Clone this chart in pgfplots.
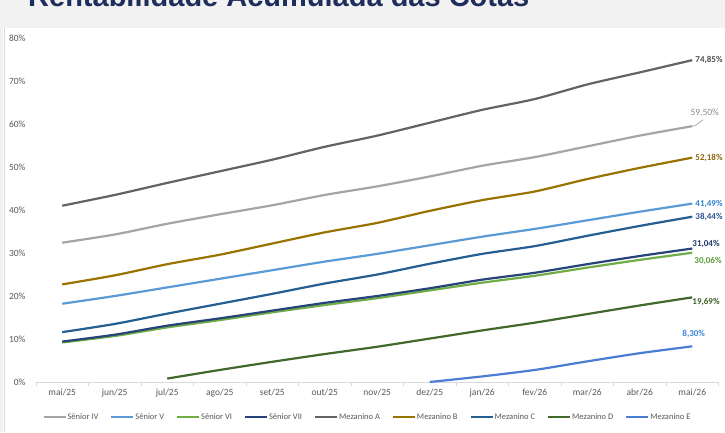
\documentclass[border=0pt]{standalone}
\usepackage{pgfplots}
\pgfplotsset{compat=1.18}
\usepackage{fontspec}
\setmainfont{Carlito}
\newfontfamily\titlefont{Liberation Sans}

\definecolor{cSIV}{HTML}{A5A5A5}
\definecolor{cSV}{HTML}{5B9BD5}
\definecolor{cSVI}{HTML}{70AD47}
\definecolor{cSVII}{HTML}{264478}
\definecolor{cMA}{HTML}{636363}
\definecolor{cMB}{HTML}{997300}
\definecolor{cMC}{HTML}{255E91}
\definecolor{cMD}{HTML}{43682B}
\definecolor{cME}{HTML}{4A7ED4}
\definecolor{ctick}{HTML}{595959}
\definecolor{cgrid}{HTML}{D9D9D9}
\definecolor{cband}{HTML}{F2F2F2}
\definecolor{ctitle}{HTML}{1F2D5C}

\definecolor{lMA}{HTML}{505050}
\definecolor{lSIV}{HTML}{8C8C8C}
\definecolor{lMB}{HTML}{8B6914}
\definecolor{lSV}{HTML}{2F7FD0}
\definecolor{lMC}{HTML}{2F5597}
\definecolor{lSVII}{HTML}{203864}
\definecolor{lSVI}{HTML}{5B9B3A}
\definecolor{lMD}{HTML}{3B5E26}
\definecolor{lME}{HTML}{3A86D6}

\begin{document}
\begin{tikzpicture}
\useasboundingbox (0pt,0pt) rectangle (725pt,432pt);
\clip (0pt,0pt) rectangle (725pt,432pt);
\fill[white] (0pt,0pt) rectangle (725pt,432pt);
\fill[cband] (0pt,404pt) rectangle (725pt,432pt);
\fill[cband] (0pt,0pt) rectangle (3pt,432pt);
\draw[cgrid, line width=1pt] (4pt,0pt) -- (4pt,404pt);
\node[anchor=base west, inner sep=0pt, text=ctitle,
      font=\titlefont\bfseries\fontsize{29}{33}\selectfont] at (28pt,425pt) {Rentabilidade Acumulada das Cotas};

\begin{axis}[
  at={(36pt,50pt)}, anchor=south west,
  width=682.5pt, height=344pt, scale only axis,
  xmin=-0.5, xmax=12.5, ymin=0, ymax=80,
  axis lines*=left,
  x axis line style={draw=cgrid, line width=0.8pt, -},
  y axis line style={draw=none},
  xtick={0,...,12},
  xticklabels={mai/25,jun/25,jul/25,ago/25,set/25,out/25,nov/25,dez/25,jan/26,fev/26,mar/26,abr/26,mai/26},
  minor xtick={-0.5,0.5,...,12.5},
  ytick={0,10,...,80},
  yticklabel={\pgfmathprintnumber{\tick}\%},
  /pgf/number format/assume math mode=true,
  major tick length=0pt,
  minor tick length=4pt,
  tick align=outside,
  minor tick style={draw=cgrid, line width=0.8pt},
  tick label style={font=\fontsize{9.5}{11}\selectfont, text=ctick},
  xticklabel style={yshift=-3pt},
  yticklabel style={xshift=-7pt},
  clip=false,
  every axis plot/.append style={line width=2.2pt, line join=round, smooth, tension=0.4},
  legend columns=9,
  legend style={at={(0.485,-0.1017)}, anchor=center, draw=none, fill=none,
    font=\fontsize{8.5}{10}\selectfont, text=ctick,
    /tikz/every even column/.append style={column sep=11pt},
    nodes={inner sep=1pt}},
  legend image code/.code={\draw[#1, line width=2pt] (0pt,0pt) -- (22pt,0pt);},
]
\addplot[cSIV] coordinates {(0,32.4)(1,34.3)(2,36.8)(3,39.0)(4,41.1)(5,43.5)(6,45.5)(7,47.8)(8,50.3)(9,52.3)(10,54.8)(11,57.3)(12,59.50)};
\addlegendentry{Sênior IV}
\addplot[cSV] coordinates {(0,18.2)(1,20.0)(2,22.0)(3,24.0)(4,26.0)(5,28.0)(6,29.8)(7,31.8)(8,33.8)(9,35.6)(10,37.6)(11,39.6)(12,41.49)};
\addlegendentry{Sênior V}
\addplot[cSVI] coordinates {(0,9.2)(1,10.7)(2,12.7)(3,14.4)(4,16.2)(5,17.9)(6,19.5)(7,21.3)(8,23.1)(9,24.7)(10,26.6)(11,28.4)(12,30.06)};
\addlegendentry{Sênior VI}
\addplot[cSVII] coordinates {(0,9.4)(1,11.0)(2,13.1)(3,14.8)(4,16.6)(5,18.4)(6,20.0)(7,21.8)(8,23.8)(9,25.4)(10,27.4)(11,29.3)(12,31.04)};
\addlegendentry{Sênior VII}
\addplot[cMA] coordinates {(0,41.0)(1,43.5)(2,46.3)(3,49.0)(4,51.7)(5,54.7)(6,57.3)(7,60.3)(8,63.3)(9,65.8)(10,69.2)(11,72.0)(12,74.85)};
\addlegendentry{Mezanino A}
\addplot[cMB] coordinates {(0,22.7)(1,24.8)(2,27.4)(3,29.6)(4,32.2)(5,34.8)(6,37.0)(7,39.8)(8,42.3)(9,44.3)(10,47.2)(11,49.8)(12,52.18)};
\addlegendentry{Mezanino B}
\addplot[cMC] coordinates {(0,11.6)(1,13.5)(2,15.9)(3,18.2)(4,20.5)(5,22.9)(6,25.0)(7,27.5)(8,29.8)(9,31.6)(10,34.0)(11,36.3)(12,38.44)};
\addlegendentry{Mezanino C}
\addplot[cMD] coordinates {(2,0.8)(3,2.8)(4,4.7)(5,6.5)(6,8.2)(7,10.1)(8,12.0)(9,13.8)(10,15.8)(11,17.8)(12,19.69)};
\addlegendentry{Mezanino D}
\addplot[cME] coordinates {(7,0.0)(8,1.3)(9,2.8)(10,4.8)(11,6.7)(12,8.30)};
\addlegendentry{Mezanino E}

\begin{scope}[font=\bfseries\fontsize{9}{10}\selectfont, inner sep=0pt]
\node[anchor=west, text=lMA] at ([xshift=3pt]axis cs:12,74.85) {74,85\%};
\node[anchor=west, text=lMB] at ([xshift=3pt]axis cs:12,52.18) {52,18\%};
\node[anchor=west, text=lSV] at ([xshift=3pt]axis cs:12,41.49) {41,49\%};
\node[anchor=west, text=lMC] at ([xshift=3pt]axis cs:12,38.44) {38,44\%};
\node[anchor=west, text=lSVII] at ([xshift=0pt,yshift=4.5pt]axis cs:12,31.04) {31,04\%};
\node[anchor=west, text=lSVI] at ([xshift=2pt,yshift=-8pt]axis cs:12,30.06) {30,06\%};
\node[anchor=west, text=lMD] at ([xshift=0pt,yshift=-5pt]axis cs:12,19.69) {19,69\%};
\node[anchor=center, text=lME] at ([xshift=1.5pt,yshift=12pt]axis cs:12,8.30) {8,30\%};
\end{scope}
\draw[cSIV, line width=0.7pt] (axis cs:12,59.50) -- ++(3pt,0.5pt) -- ++(8pt,6pt);
\node[anchor=center, inner sep=0pt, text=lSIV, font=\fontsize{9.5}{10}\selectfont] at ([xshift=12.5pt,yshift=13pt]axis cs:12,59.50) {59,50\%};
\end{axis}
\end{tikzpicture}
\end{document}
